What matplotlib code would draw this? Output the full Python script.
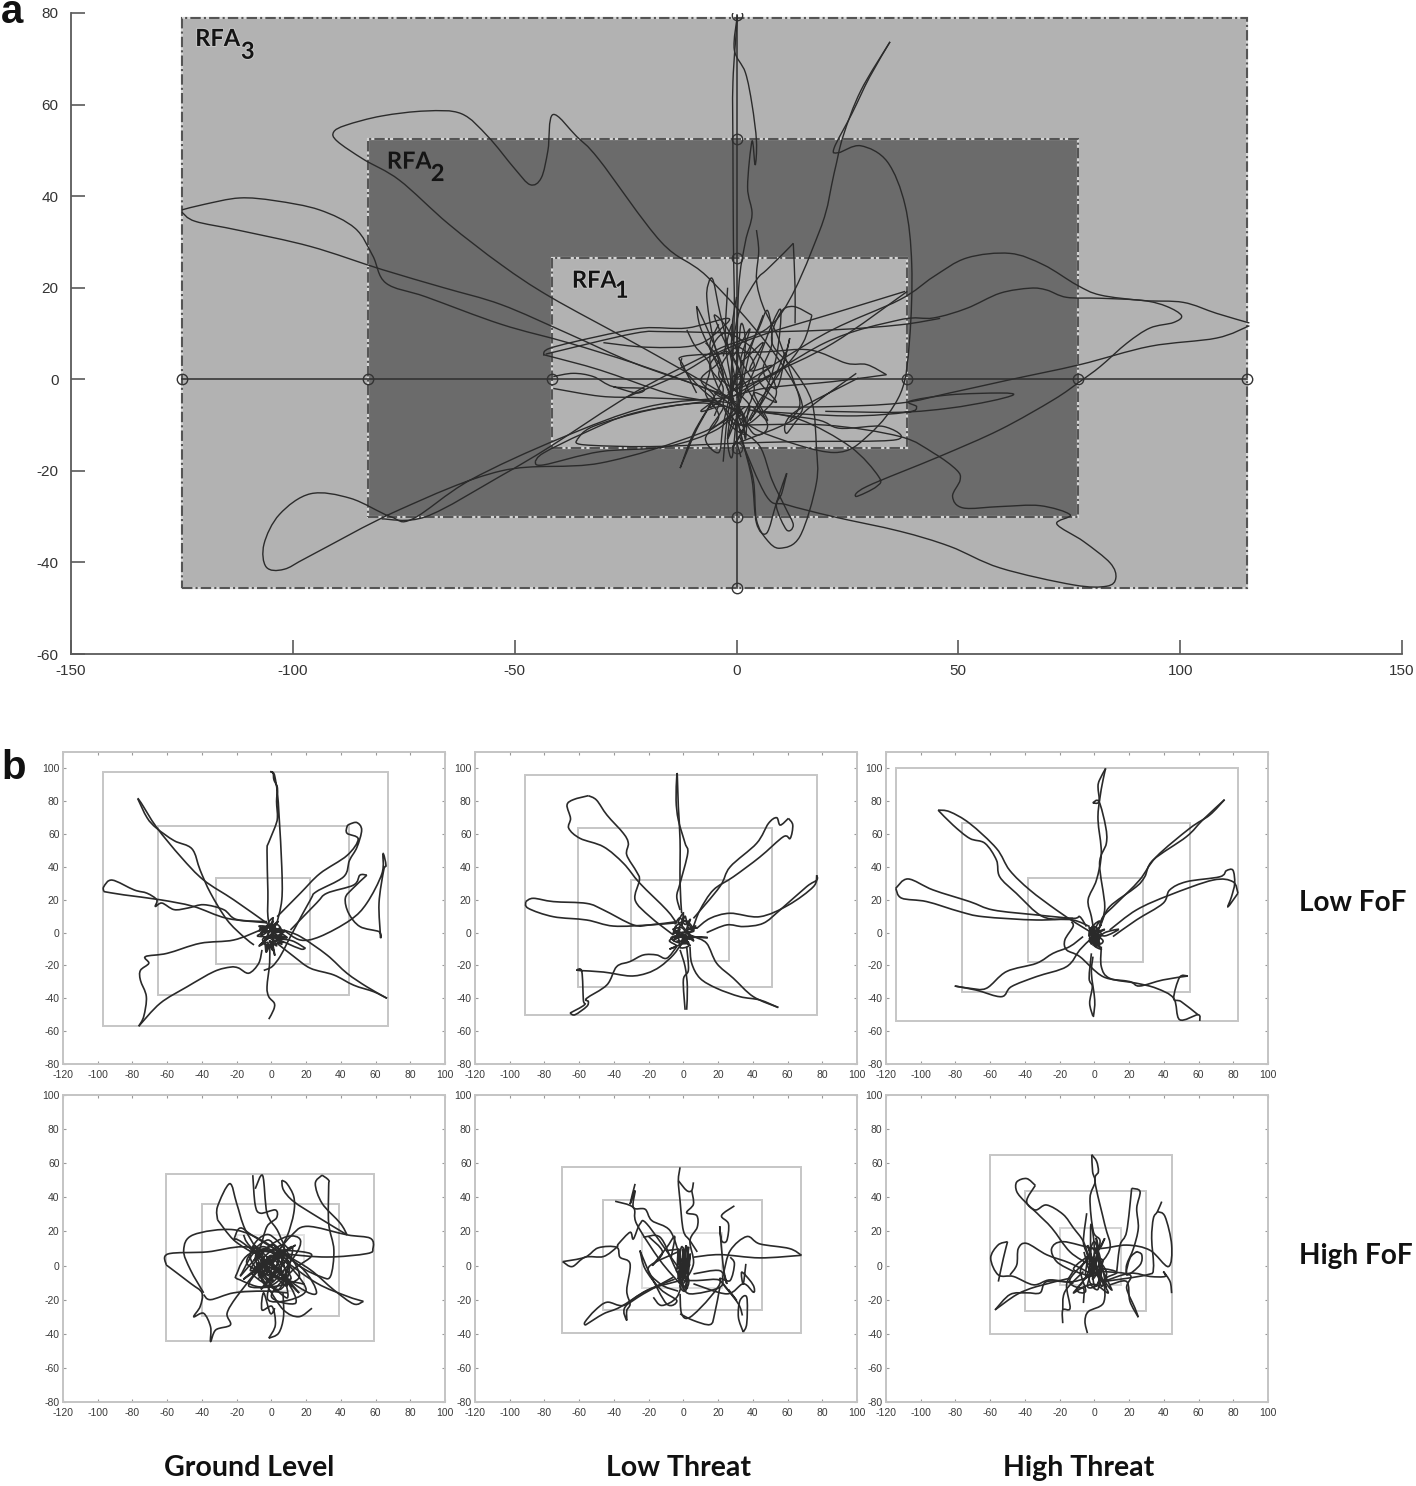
import matplotlib
matplotlib.use("Agg")
import matplotlib.pyplot as plt
import matplotlib.patheffects as pe
from matplotlib.patches import Rectangle, PathPatch
from matplotlib.path import Path
import numpy as np

W, H = 1416, 1486

# panel a: response field areas (x0, x1, y0, y1)
rfa3 = (-125, 115, -45.5, 79)
rfa2 = (-83, 77, -30, 52.5)
rfa1 = (-41.5, 38.5, -15, 26.5)
marker_x = [-125, -83, -41.5, 0, 38.5, 77, 115]
marker_y = [-45.5, -30, -15, 0, 26.5, 52.5, 79.5]
xticks_a = [-150, -100, -50, 0, 50, 100, 150]
yticks_a = [-60, -40, -20, 0, 20, 40, 60, 80]

# panel a: traced reach paths
paths_a = [
    [(-125,37),(-120,38.2),(-112,39.6),(-104,39),(-94,37),(-86,33),(-82,27),(-79,21),(-70,18),(-53,12),(-38,8),(-23,3.5),(-8,-1.6),(-1,-4)],
    [(-125,36.5),(-122,34.5),(-112,32.5),(-96,29),(-80,24),(-66,20),(-53,16.3),(-38,10),(-23,3.5),(-8,-1.6),(0,-5)],
    [(0,-14),(12.8,-8.8),(14.3,-3.8),(6.8,7.9),(-6.7,22.5),(-17,30),(-31,48),(-36,53),(-41.4,57.8),(-42.5,50),(-44,44),(-46.5,42.5),(-50,46),(-56,53),(-62,58),(-70,58.6),(-80,57.5),(-88,55.5),(-90.8,54),(-90,52),(-84,48),(-76,43.5),(-65,34),(-53,25),(-42,18),(-23,7.9),(-4.5,-2.3),(0,-6)],
    [(0.2,79.5),(-0.5,72),(2,67),(3.5,60),(4.5,52),(4.2,46.8),(3.5,52),(2.5,42),(3.5,36),(2,30),(0.5,20),(0,0)],
    [(0.2,79),(-0.8,65),(-0.8,50),(-0.7,30),(-0.5,15),(-1,0),(-1,-10)],
    [(34.6,73.7),(30,66),(26,58),(22,50.5),(23,49.5),(28,51),(34,47.5),(38,38),(39.5,25),(39,8.6),(37,-3),(30,-12),(22,-16),(6.8,-12),(0,-8)],
    [(34.6,73.7),(28,63),(24,53),(22,45),(18.8,32.6),(9,13),(-4.5,6.4),(-23.2,-3),(-42,-14.7),(-53.3,-21.2),(-70,-30),(-80,-30.5)],
    [(115.6,12.3),(108.2,14.4),(100.7,16.8),(91.7,17.2),(82,18.4),(76.7,20.6),(69.2,25),(61.6,27.5),(51.9,26.5),(44.4,22.4),(36.85,17.4),(20,10),(0,-2)],
    [(115.6,11.7),(108.2,9),(93.2,7.2),(77.4,3.2),(61.6,-0.1),(48,-3),(36.9,-5.2),(20,-6),(0,-6)],
    [(0,-4),(20,8),(36.85,13),(44.4,13.4),(51.9,15.5),(59.4,18.8),(66.2,19.9),(69.9,19.5),(74.4,17.9),(82,17.7),(91.7,17.2),(97,15.9),(100.3,13.9),(98.5,12.4),(93.2,11.2),(88,7.9),(82,2.8),(77.4,-0.5),(71.4,-4.5),(59.4,-11),(45.9,-16.8),(29.4,-23.4),(27,-25.6),(31.6,-23.4),(32,-21.2),(25.6,-14.7),(14.3,-8.8),(3,-6.7)],
    [(20,-7),(36.85,-7.2),(48,-6.3),(57.1,-4.8),(62.4,-3.4),(59.4,-3),(48,-3.4),(39,-4.8),(40.6,-6),(38.4,-7.2),(25,-8),(5,-7)],
    [(0.7,-10),(20,-10),(36.85,-12.5),(44.4,-16.1),(49.6,-19.8),(50.4,-22),(48.7,-25.6),(51.1,-28.1),(59.4,-27.8),(68.4,-27.6),(75.2,-29.6),(72.2,-31.6),(78.2,-35.4),(84.2,-40.1),(85.5,-43.4),(83.4,-45.2),(75.9,-44.9),(59.4,-41.2),(48.1,-36.5),(36.85,-33.2),(21.8,-30),(11.3,-27.4),(6.8,-25.6),(0.7,-12.5)],
    [(-2,-4),(-20,-6),(-40,-13),(-60,-22),(-73,-30.5),(-78,-30),(-87,-26),(-96,-25),(-103,-29.5),(-106.5,-36),(-106,-41),(-102,-41.5),(-96,-38.5),(-76,-28.5),(-53,-20),(-30.7,-18.3),(-8.2,-11.8),(2,-6)],
    [(45.9,13.3),(36.9,11.9),(21.8,10.8),(-0.7,10.2),(-15.7,10.4),(-23.2,10),(-43,5.5)],
    [(-43.5,5.3),(-42,6.8),(-31.5,9.3),(-21,11.2),(-11.2,11.2),(-2.2,13.3),(-3,11.5),(-9,7.5),(-20,7),(-30,8)],
    [(-43.5,5.3),(-42,5),(-30.7,2),(-15.7,-3),(-4.5,-5.2),(0.8,-7.5)],
    [(-41.3,0.6),(-36.8,1.3),(-32.3,0.6),(-27.8,-1.6),(-21,-2),(-22.5,-3),(-27.8,-1.6)],
    [(-41.3,-2),(-30.7,-3.7),(-21.7,-4),(-8.2,-4.5),(-0.7,-5.2)],
    [(-45.4,-18),(-43.5,-16.1),(-34.5,-11.8),(-23.2,-7.4),(-8.2,-5.2),(0.8,-6.7)],
    [(-45.4,-18),(-43.5,-18.7),(-30.7,-15.8),(-15.7,-14.7),(-4.5,-11),(0.8,-6)],
    [(-36,-13.2),(-34.5,-14.3),(-19.5,-14.7),(-0.7,-14),(14.3,-13.6),(36,-13.2),(33.1,-10.3),(23.3,-10.7),(18,-8.8),(3.8,-7)],
    [(-36,-13.2),(-32.3,-10.3),(-19.5,-6.7),(-4.5,-4.5)],
    [(33.8,1),(29.4,3.2),(24.8,3.5),(16.6,6.4),(6.8,6),(-0.7,5.7),(-12,5),(-12,3),(-9,-3)],
    [(33.8,1),(21.8,-0.5),(6.8,-1.9),(-2,-4)],
    [(27,1.3),(15.8,-6.7),(11.3,-11.8),(12.8,-7.4),(27.5,0.3)],
    [(38,19.2),(21.8,14.4),(6.8,10),(-4.5,5.7),(-13,1),(-25,-4)],
    [(38.5,19.2),(21.8,7.9),(6.8,0.6),(-0.7,-3.7)],
    [(0.8,-11),(5.3,-14.7),(8,-22),(11,-28),(12.8,-31.8),(11.3,-32.9),(9,-27.8),(10.2,-24.9),(11.3,-20.5),(9,-27),(6.8,-33.6),(4.5,-31.4),(3.5,-22),(1.5,-14),(0,-8)],
    [(17,14),(12.8,15.9),(9.8,14.4),(8,8),(13,2),(17,-5),(18,-14.7),(18,-22.7),(14.3,-34.3),(9.8,-36.9),(6.8,-35),(4.5,-30.7),(3.8,-22),(1.5,-14),(0,-8)],
    [(17,14),(15,8),(10,2),(3,-1),(-2,-3)],
    [(12.8,29.7),(10.6,27.5),(6.8,23.9),(4.5,21.7),(0.8,15.2),(-0.7,7.9),(-1.5,-3.8)],
    [(12.8,29.7),(13.2,20),(13.2,12.2)],
    [(4.5,32.6),(5,28),(4.5,21.7),(6,15.9),(9,10),(12,2),(14.3,-5.2),(12,-9)],
    [(-6,22),(-6.7,18),(-5.2,8.6),(-2.2,-1.6),(0.8,-8.1),(-0.7,2.1),(-3.7,14.4),(-5.2,21.4),(-6,22)],
    [(-9,15.9),(-8.2,11.5),(-5.2,5),(-0.7,-4.5),(-3.7,4.3),(-7.5,13),(-9,15.9)],
    [(-12.7,-19.4),(-9,-11),(-5.2,-4.5),(-9.7,-11.8),(-12.7,-19.4)],
    [(-3,-18),(-2,-8),(0,2),(1,12),(2,8),(1,-2),(0,-12),(1,-17)],
    [(6,14),(3,6),(1,-4),(4,2),(8,12),(10,15),(9,5),(6,-4),(3,-9),(7,-3),(11,6)],
    [(-5,-8),(-3,-2),(-6,3),(-2,6),(1,0),(-3,-5),(0,-10),(3,-6),(-1,-1),(4,3),(0,7),(-4,1),(1,-4),(-2,-9),(2,-12),(-1,-6),(-5,-3)],
    [(-12.3,4.6),(-12.3,2.8),(-8,-2),(-3,-6),(1,-10),(5,-8),(9,-3),(6,4),(2,8),(-3,10),(-6,5),(-4,-2),(0,-6),(4,-12),(7,-10),(3,-3),(0,3),(-3,9),(-5,14),(-2,11),(1,4),(4,-2),(1,-9)],
    [(-11.2,10.8),(-9.3,7.2),(-6,3),(-7,-3),(-4,-8),(-7,-13),(-4,-16),(-3,-10),(-1,-2),(2,5),(5,11),(7,15),(8,8),(6,2),(9,-2),(11,5),(12,9),(10,2),(5,-5),(1,-12),(-1,-15),(2,-9),(-2,-4),(-6,-6),(-3,1),(-6,7),(-4,12)],
    [(-7,8),(-4,4),(-8,0),(-5,-4),(-8,-7),(-3,-6),(-6,-11),(-1,-8),(-2,-13),(1,-7),(2,-13),(3,-6),(7,-9),(4,-3),(9,-5),(5,0),(8,3),(3,2),(6,8),(1,4),(3,11),(-1,5),(-1,12),(-3,5)],
    [(-2,20),(-2.5,8),(-1,-3),(-2,-13),(-1,-17),(0,-8),(1,3),(-1,10),(0,18)],
]

# panel b: field rectangles per panel (outer, mid, inner)
rects_b = [
    [(-97,67,-57,98),(-65,45,-38,65),(-32,22,-19,33)],
    [(-91,77,-50,96),(-60.5,51,-33,64),(-30,26,-17,32)],
    [(-114,83,-54,100),(-76,55,-36,67),(-38,28,-18,33.5)],
    [(-60.5,59,-44.5,53.5),(-40,39,-29.5,36),(-20,19,-15,18)],
    [(-70,68,-39.5,58),(-46,45.5,-26,38.5),(-24,22.5,-13,19)],
    [(-60,45,-40,65),(-40,30,-26.5,43.5),(-20,15.5,-11.5,22)],
]
inner_colors = ['#c6c6c6', '#c6c6c6', '#c6c6c6', '#e2e2e2', '#dcdcdc', '#d2d2d2']
xticks_b = list(range(-120, 101, 20))
yticks_b = list(range(-80, 101, 20))

low_ground = [
    [(0,0),(-2,10),(-2,25),(-2.5,50),(-1.5,55),(2,64),(3.5,70),(3,80),(3.5,88),(1.5,93),(1,97),(-0.5,98),(1,97.5),(2,95),(3.5,85),(4.5,70),(6,40),(6,20),(3,5)],
    [(-77,81.7),(-71.6,70),(-66,63.5),(-56,56),(-45.7,51),(-41,38),(-35,24),(-25.5,7.7),(-16,-2.5),(-10,-7.5)],
    [(-77,81.7),(-75,79),(-66,64),(-52,46),(-39,32),(-21.7,20),(-2.5,5.7)],
    [(-96.5,25),(-96.5,28),(-91.7,32),(-79,26),(-71.6,24),(-66,20),(-66.8,16),(-63,18),(-56,14),(-48,15),(-39,17),(-27.5,14),(-20,8),(-2.5,6.7)],
    [(-96.5,25),(-85,23),(-64,20),(-45,16),(-25.5,8.7),(-2.5,6)],
    [(-76.4,-57),(-73.5,-51),(-72,-39),(-75.4,-29),(-75.4,-23),(-70.6,-18.7),(-72.5,-14.6),(-60,-12.6),(-41,-6.5),(-21.7,-4.5),(-6.3,1.6)],
    [(-76.4,-57),(-64,-43),(-48.6,-33),(-33,-23.7),(-23.6,-21),(-19,-21.5),(-13,-24.7),(-7.3,-18.7),(-5.4,-10.5)],
    [(-1.5,-52.7),(1.3,-47),(1.7,-43),(-1.5,-39),(-2.5,-33),(-1,-18.7),(-1,-8.5)],
    [(66.6,-40),(59,-36),(47.4,-32),(36,-25.8),(22.5,-21.7),(13,-14.6),(3.3,-6.5)],
    [(66.6,-40),(55,-33),(43.5,-24.7),(32,-13.6),(16.7,-2.4),(7,1.6)],
    [(-4.4,-23),(0.4,-20.7),(5,-14.6),(9,-6.5),(13,1.6),(22.5,20),(26,25),(41.6,34),(45,44),(49.3,52),(52,62.5),(49.3,67),(45,66),(43.6,64.5),(43.6,60.5),(50,57),(43.6,47),(28,36),(16.7,24),(3.3,9.7)],
    [(55,35),(51,35),(47.4,29),(32,24),(26,18),(11,1.6)],
    [(55,35),(47,27),(42.6,21),(44.5,11.8),(51,3.7),(62,0.6),(62.8,-2.4),(62,18),(64.7,38),(66,41),(64.3,48),(63.7,36),(55,18),(45.5,7.7),(28,-2.4),(16.7,-4.5),(7,1.6)],
    [(19.6,-9.5),(17,-10),(9,-6.5),(4,-4),(12,-5),(19.6,-9.5)],
    [(-5,4),(-7,1),(-3,3),(-6,-2),(-1,1),(-4,-5),(0,-2),(-7,-8),(-2,-6),(-3,-12),(0,-7),(2,-14),(1,-5),(6,-7),(3,-2),(9,-3),(4,1),(8,1),(2,3),(4,7),(0,4),(1,9),(-2,5),(2,0),(-3,-3),(4,-3),(-1,-8),(5,-5),(0,1),(-6,0),(3,5),(6,-1),(-2,-2)],
    [(-7,2),(-4,3),(-6,-1),(-2,5),(-4,0),(1,7),(-1,1),(3,6),(0,-1),(5,3),(2,0),(8,1),(4,-2),(9,-3),(3,-4),(7,-6),(1,-3),(3,-8),(-1,-5),(1,-11),(-2,-7),(-3,-12),(-4,-6),(-7,-8),(-3,-3),(-8,-2),(-4,1),(-7,4),(0,3),(-2,-1),(2,-5),(6,-1),(-1,3),(4,1),(-5,-4),(0,-8),(2,4)],
]
low_low = [
    [(-3.8,95),(-4.2,80.7),(-2.9,68.6),(1,54.4),(2.5,48.3),(-1.9,30),(-3.8,22),(-1.9,13.8)],
    [(-3.8,95),(-3.5,96),(-2.9,76.7),(-1.9,56.4),(-1.9,30),(-1,11.8)],
    [(-54.7,83.4),(-63.3,81),(-67,77.7),(-65,69.6),(-66,63.5),(-59.5,57.4),(-46,52.3),(-34.5,42.2),(-25,30),(-9.6,13.8),(-3.8,5.7)],
    [(-54.7,83.4),(-50,80.7),(-44,71.6),(-34.5,60.4),(-31.7,54.4),(-32.6,47.3),(-26.9,37),(-25.3,32),(-27.8,19.9),(-19.2,9.7),(-5.8,-1.4)],
    [(-90.8,18.9),(-86.4,20.9),(-74.9,18.9),(-55.7,17.8),(-46,13.8),(-28.8,4.7),(-19.2,4.7),(-3.8,6.7)],
    [(-90.8,18.9),(-89.3,14.8),(-74.9,9.7),(-55.7,7.7),(-40.3,4),(-19.2,4.7),(-3.8,6)],
    [(60.5,69.6),(63,65.5),(61.5,57.4),(57.6,58.4),(44,46),(28.8,34),(17.3,26),(9.6,13.8),(5.8,3.7)],
    [(60.5,69.6),(55.8,65.5),(53.7,70),(49,66.5),(42.2,54.4),(26.9,40),(21,28),(5.8,8.7)],
    [(76.8,35),(74.9,28),(60.5,16.8),(44,9.7),(26.9,11.8),(15.4,8.7),(7.7,2.6)],
    [(76.8,35),(76.8,32),(71,28),(55.7,13.8),(46,5.7),(34.5,3.7),(25,4.7),(13.4,0)],
    [(54.7,-45.6),(44,-41),(32.6,-39),(19.2,-33.9),(9.6,-27.8),(4.8,-18.7),(3.8,-8.5)],
    [(54.7,-45.6),(40.3,-39),(28.8,-27.8),(19.2,-18.7),(13.4,-6.5),(5.8,-2.4)],
    [(1,-47),(0,-28.8),(2.9,-22.7),(1.9,-8.5)],
    [(1.9,-47),(2.3,-32.9),(1,-20.7),(-1.9,-10.5)],
    [(-65.3,-49),(-62.4,-50),(-55.7,-45),(-54.7,-42),(-55.7,-40),(-44,-31.8),(-38.4,-20.7),(-30.7,-17.6),(-23,-13.6),(-15.4,-13.6),(-9.6,-15.6),(-3.8,-8.5)],
    [(-65.3,-49),(-57,-44),(-57.6,-41),(-58.5,-23.7),(-61.4,-22.7),(-59.5,-23.1),(-46,-24),(-30.7,-26.4),(-21,-24.7),(-13.4,-20.7),(-5.8,-13.6),(-1,-6.5)],
    [(-4,4),(-6,-1),(-2,2),(-5,-4),(0,-1),(-7,-3),(-3,-6),(1,-3),(-2,-9),(3,-8),(1,-2),(6,-5),(2,1),(8,3),(3,3),(1,10),(-1,4),(0,12),(-3,6),(2,7),(6,1),(-1,0),(4,-4),(-3,-2),(14,-3),(5,-2),(-2,5),(-5,1),(3,-6),(-1,-7),(-8,-10),(-4,-8),(-8,-5),(-4,-2)],
    [(-5,5),(-2,9),(1,5),(4,8),(2,2),(7,4),(3,-1),(6,-3),(1,-4),(4,-8),(0,-5),(-2,-8),(-3,-3),(-6,-5),(-2,0),(-6,2),(-1,3),(1,0),(-3,1),(0,7),(3,5),(5,1),(0,-2),(2,-6),(-4,-5)],
]
low_high = [
    [(6.5,100),(3,93),(2.1,88.8),(2.7,79.7),(-0.8,79),(2.7,79.7),(6.5,64.5),(6.9,54.4),(3,42),(6,15.8),(3,3.7)],
    [(6.5,100),(5,93),(3,80.7),(2.1,68.6),(4,48.3),(1.2,32),(-3.6,20),(-1.7,9.7),(-0.4,1.6)],
    [(-90,74.6),(-83.3,73.6),(-71.8,66.5),(-56.4,51.3),(-48.8,38),(-37.2,26),(-21.9,13.8),(-10.4,5.7),(-0.8,-0.4)],
    [(-90,74.6),(-81.4,65.5),(-71.8,57.4),(-63,54.4),(-56.4,44.2),(-54.5,34),(-45,24),(-29.6,9.7),(-12.3,7.7),(-2.7,3.7)],
    [(-114.4,27),(-107.3,32.7),(-92.9,26),(-71.8,18.9),(-58.3,13.8),(-33.4,10.8),(-12.3,8.7),(-8.4,9.7),(-4.6,3.7)],
    [(-114.4,27),(-111,21),(-96.6,18.9),(-77.5,12.8),(-64,9.7),(-33.4,7.7),(-12.3,8.7)],
    [(75,81),(66.4,71.6),(54.9,63.5),(35.7,46.2),(26,32),(12.7,17.8),(5,9.7),(3,3.7)],
    [(75,81),(62.4,68.6),(53,58.4),(33.8,44.2),(29,34),(24.2,28),(8.8,15.8),(4,5.5)],
    [(82.7,24),(77,15.8),(79,21.9),(80.8,30),(79.8,38),(76,37.7),(72.2,34),(53,31),(43.4,26),(39.5,17.8),(24.2,7.7),(10.7,-2.4)],
    [(82.7,24),(79.8,31),(68.3,32),(43.4,22.9),(24.2,13.8),(8.8,1.6)],
    [(60.7,-53.8),(59.7,-50),(49.1,-53),(45.7,-40),(35.7,-33.9),(24.2,-30.8),(8.8,-27.8),(4,-20.7),(4,-8.5)],
    [(53.9,-26.4),(49.1,-27.2),(45.7,-40),(50,-42),(59.7,-50)],
    [(53.9,-26.4),(39.5,-28.8),(26,-32.5),(20.3,-29.8),(5,-26.8),(-8.4,-14.6),(-16,-10.5),(-17,-4.5),(-12.3,3.7),(-13.2,6.7)],
    [(-0.8,-51),(-2.7,-43),(-1.2,-32.9),(-3,-27.8),(-1.7,-12.6)],
    [(-0.8,-51),(-0.4,-50),(0.2,-41),(-1.7,-24.7),(-0.8,-14.6)],
    [(-80.4,-32.5),(-71.8,-33.9),(-62.2,-33.9),(-50.6,-23.7),(-33.4,-18.7),(-23.8,-12.6),(-14.2,-8.5),(-6.5,-2.4)],
    [(-80.4,-32.5),(-68,-35),(-53.5,-39),(-47.8,-32.9),(-33.4,-26.8),(-16,-20.7),(-8.4,-10.5),(-2.7,-4.5)],
    [(-2,3),(-3,-2),(0,1),(-2,-5),(1,-3),(-1,2),(2,0),(-2,-3),(3,-6),(0,-8),(4,-10),(1,-5),(4,-1),(1,3),(3,7),(0,5),(-2,1),(2,-2),(-3,-5),(1,-7),(-1,0),(6,-2),(14,2),(6,0),(2,-4)],
    [(-3,1),(-1,-2),(-3,-4),(0,-4),(-2,-7),(2,-5),(1,-9),(3,-3),(0,-1),(2,2),(-1,4),(-2,0),(1,-2),(-1,-5),(3,-7),(5,-5),(2,-1),(6,2),(2,1),(4,5),(1,1),(-3,3),(0,-3),(-2,-1),(2,-4),(-1,-8)],
    [(-2,-6),(-3,0),(-1,3),(1,-1),(-1,-3),(1,-6),(3,-9),(2,-3),(0,0),(-2,2),(0,-5),(2,-7),(1,-2),(3,1),(0,3),(-3,-2)],
]
high_ground = [
    [(-60.6,0.4),(-59.5,6.8),(-37,8),(-16,11),(7,7),(32,5),(55,7),(58.5,10),(57,16),(43.6,18),(20.5,23),(11,17),(1.3,5)],
    [(-60.6,0.4),(-46.6,-10.4),(-40,-16),(-41,-24),(-44.7,-30),(-39,-28),(-35,-36),(-35,-44.5),(-32,-37.7),(-23.6,-34.8),(-25.5,-28),(-19.8,-18),(-6.3,-0.6)],
    [(-39,-17),(-35,-20),(-21.7,-16),(-4.4,-15),(9,-16)],
    [(-39,-16),(-46.6,-2.5),(-50.5,9),(-45,18),(-21.7,21),(-2.5,13),(11,1.4)],
    [(-31,26.8),(-31,34.6),(-24,48),(-20,36.5),(-15,21),(-4.4,3.3)],
    [(-31,26.8),(-21.7,15),(-10,7)],
    [(-10.7,53),(-9.3,35.5),(-6.3,30.7),(2.3,32.6),(3,28),(-2.5,22.9),(-6.3,11),(-10,3)],
    [(-9.3,45),(-5,52.7),(-2.5,30.7),(3.3,21),(7,13),(11,9)],
    [(6,50),(9,48),(12.9,40.4),(12.9,30.7),(9,17),(3.3,7)],
    [(6,50),(7,44.3),(12.9,37.5),(26.3,28.7),(43.6,18)],
    [(29.2,53),(25.3,48),(29.2,36.5),(39.7,24.8),(43.6,18)],
    [(29.2,53),(33,50),(33,46.3),(33,24.8),(36,9.2),(34,-6.4),(28.2,-6.4),(16.7,-0.6),(3.3,11)],
    [(53,-21),(43.6,-18),(26.3,-10.4),(7,3.3)],
    [(53,-21),(47.4,-22.5),(36,-14.3),(22.5,-2.5),(7,7)],
    [(-1.5,-42.6),(4.2,-39.6),(7,-30),(6.7,-16)],
    [(-1.5,-42.6),(2.3,-34.8),(0.4,-24),(-5.4,-26),(-4.4,-16),(-0.6,-28),(2,-25)],
    [(23.4,-25),(15.8,-30),(7,-26),(-2.5,-12),(-10,-0.6)],
    [(-21.7,15),(-18,22),(-10,17),(16.7,-0.6),(26,-16),(14.8,-12),(-16,13),(-21.7,15)],
    [(-18,-6.4),(-4.4,9),(9,17),(16.7,15),(13,5),(-2.5,-12),(-18,-8.4),(-20,-5),(-10,8),(22.5,7),(12,-3),(0,-18),(14,-22),(8,-8),(-12,11),(-16,18)],
    [(-8,2),(-3,-10),(6,5),(-10,8),(7,-4),(-5,3),(9,-12),(2,12),(-12,-3),(10,6),(-6,-14),(4,2),(-2,15),(-14,1),(11,-8),(0,6),(-7,-6),(12,11),(3,-15),(-10,12),(16,-16),(1,-2),(-9,-1),(8,9),(-3,4)],
    [(-18,-6),(-4,11),(20,-14),(-2,-20),(5,8),(-13,-12),(16,-7),(-1,18),(-12,4),(9,-19),(2,3),(-16,-8),(14,12),(-6,-3),(19,-11)],
    [(-10,3),(-4,10),(4,2),(-7,-7),(6,9),(9,-3),(-3,-12),(-9,6),(3,-6),(7,12),(-6,1),(12,-12),(-1,-4),(-11,-5),(5,-14),(10,2),(-5,8),(1,-9),(-8,-1),(6,-2)],
]
high_low = [
    [(68,6),(61,10),(44,12.7),(36.5,17),(27,8.8),(23,-5),(21,-12.7),(3.8,-16.6),(-1,-10.7)],
    [(68,6),(44,4.5),(21,6.4),(5.8,4.9)],
    [(-69.5,2.3),(-64,-0.6),(-56.6,4.9),(-46,5.3),(-38.4,10.7),(-37.4,12.7),(-30.7,19.5),(-28.8,15.6),(-25,24.4),(-21,24.4),(-5.8,3),(0,-5)],
    [(-69.5,2.3),(-56.6,4.9),(-49,10.4),(-38.4,10.7),(-36.5,4.9),(-30.7,1),(-32.6,-14.6),(-30.7,-22.5),(-32.6,-26.4),(-32.6,-32.2),(-33.6,-24.4),(-21,-14.6),(-1.9,-8.8)],
    [(-56.6,-35),(-56.6,-33),(-51,-26.4),(-44,-21.5),(-34.5,-23.4),(-23,-16.6),(-5.8,-6.8)],
    [(-56.6,-35),(-46,-28.3),(-36.5,-24.4),(-21,-14.6),(-5,-8)],
    [(-27.8,47.9),(-30.7,36),(-27.8,44),(-28.8,34),(-22,33),(-18.2,26.4),(-7.7,20.5),(-1.9,4.9)],
    [(-39.3,37.7),(-28.8,34),(-26.9,24.4),(-13.4,3),(-1.9,-10.7)],
    [(-1.9,57.6),(-2.9,49.8),(-1.9,38),(0,20.5),(3.8,14.6),(8,8)],
    [(5.8,48.8),(4.8,44),(1.9,44),(-2.9,49.8)],
    [(4.8,44),(5.8,36),(1.9,31),(7.7,29.3),(8,22.5),(3.8,14.6),(5.8,1),(0,-10.7)],
    [(29.4,35),(22,29.3),(26,24.4),(25,14.6),(22,14.6),(21,22.5),(23,-1),(25,-10.7),(21,-3),(5.8,-4.9)],
    [(27,4.9),(29.4,1),(26.9,-8.8),(21,-8),(30.7,-20.5),(26,-14)],
    [(36,1),(34.5,-10.7),(33.6,-3.9),(38.4,-8.8),(40.7,-12.7),(40.3,-15.6),(34.5,-10.7),(25,-16.6),(5.8,-10.7)],
    [(34.5,-39),(31.7,-30.3),(32.6,-20.5),(36.5,-18.6),(36.5,-34),(34.5,-39)],
    [(34,-29.3),(31.7,-22.5),(23,-10.7)],
    [(-1.9,-28.3),(5.8,-32.2),(15.4,-34.6),(18,-28.3),(21,-12.7)],
    [(-1.9,-16.6),(-1,-28.3),(3.8,-30.3),(15.4,-18.6),(21,-8.8),(7.7,-8.8),(0,-8.8)],
    [(-25,8.8),(-19.2,-4.9),(-9.6,-22.5),(-3.8,-20.5),(-13,-14),(-22,-2),(-25,8.8)],
    [(-9.6,8.8),(-1.9,8.8),(-20,-1),(-13,-11),(-3,-15)],
    [(-23,16.6),(-13.4,16.6),(-5.8,1),(0,-11.7)],
    [(-17.3,-18.6),(-12.5,-23.4),(-3.8,-18.6),(0,-6.8)],
    [(-20,17),(-12,8),(-18,0),(-10,10),(-5,17),(-7,5)],
    [(-3,10),(-3.5,-2),(-2,9),(-1.5,-5),(0,10),(0,-3),(1.5,12),(1,-8),(3,11),(2,-5),(4,7),(2,-9),(-1,-1),(-3,-8),(0,-2),(2,-13),(-1,-10),(1,-6),(-2,-12),(1,-15),(3,-8),(-4,-3),(1,2),(-3,4),(4,0)],
    [(-3,8),(-2,0),(-3,-6),(-1,-11),(0,-4),(1,4),(2,11),(3,2),(1,-3),(2,-11),(0,-14),(-1,-5),(-2,4),(-1,11),(1,7),(0,-1),(-2,-9),(1,-12),(3,-4)],
]
high_high = [
    [(-1.5,65),(1.3,61),(2.3,55),(0.4,49),(6,24),(9,10),(1.3,-1.6)],
    [(-1.5,65),(-1,55),(0.4,49),(-2.5,39.5),(-0.6,20),(3.3,14),(-0.6,0)],
    [(-34,47),(-39,51),(-44.7,49),(-44.7,43.4),(-40,37.5),(-34,32.6),(-27.5,35.5),(-18,30),(-12,22),(-6.3,14),(-2.5,2.3)],
    [(-34,47),(-39,37.5),(-33,30.7),(-24.5,22),(-14,8),(-2.5,0.4)],
    [(-50,14),(-55.5,12),(-59.7,4.3),(-55.3,-5.5),(-46.6,-6.4),(-35,-11.3),(-25.5,-8.4),(-12,-10.4)],
    [(-55.3,-9.4),(-52.4,4.3),(-50,14)],
    [(-48.6,-5.5),(-44.7,0.4),(-43.8,10),(-39,13),(-27.4,6.3),(-14,1.4),(-0.6,-5.5)],
    [(-57.2,-26),(-48.6,-17),(-39,-16),(-31.3,-16),(-27.4,-9.4),(-12,-9.4),(-0.6,-5.5)],
    [(-57.2,-26),(-44.7,-17),(-33.2,-12.3),(-14,-7.4)],
    [(-18.2,-33.8),(-18.2,-26),(-14,-25),(-16,-11.3),(-12,-3)],
    [(-18.2,-26),(-16.9,-15.2),(-6.3,-3.5)],
    [(-6.3,-22),(-6.3,-13.3),(-12,-16),(-6.3,-9.4)],
    [(-4,-39.6),(-5.4,-32.8),(-3.5,-27),(5.2,-22),(5.2,-9.4),(-0.6,-3.5)],
    [(25.3,-30.3),(23.4,-25),(18.6,-13.3),(20.5,-5.5),(5.2,-3.5)],
    [(25.3,-30.3),(20.5,-21),(18.6,-9.4),(9,-11.3)],
    [(44.5,-16.2),(43.6,-9.4),(39.7,-3.5),(40.7,-6.4),(32,-6.4),(20.5,-4.5),(5.2,-9.4)],
    [(21.5,45.3),(18.6,20),(14.8,12),(12.9,-3.5)],
    [(21.5,45.3),(26.3,43.4),(24.4,33.6),(25.3,21.9),(22.5,10),(18.6,0.4),(18.6,-5.5)],
    [(38.8,37.5),(36.3,31.6),(34,27.7),(33,16),(34,-1.6),(30,-5.5),(5.2,-9.4)],
    [(36.3,31.6),(40.7,28.7),(44.5,12),(42.6,-0.6),(32,9),(18.6,12),(1.3,10),(-18,14),(-24.6,10),(-21.7,2.3),(-12,-3.5)],
    [(24.4,8.2),(27.3,6.3),(26.3,0.4),(18.6,-5.5),(20.5,4.3),(24.4,8.2)],
    [(-4.4,30.7),(-6.3,14),(-4,5),(-8,-3),(-5,-15),(-10,-14),(-3,-2),(-2,24),(0,8),(-3,-8),(2,-14),(3,-2),(1,16),(3,10),(6,16),(1,4),(4,-12),(7,-4),(2,3),(10,-14),(6,-8),(13,-4),(4,-2),(-1,-6),(-12,-2),(-2,6),(-14,-8),(-9,-13),(0,-11),(8,-16),(2,-5),(-4,12),(1,-2)],
    [(-6,8),(-2,-4),(1,10),(3,-9),(-4,-12),(2,6),(-1,-8),(5,3),(-3,2),(6,-10),(0,14),(-5,-6),(4,-3),(0,-12),(-2,10),(3,1),(-7,-9),(1,-4),(7,-13),(-1,4)],
]
paths_b = [low_ground, low_low, low_high, high_ground, high_low, high_high]
row_labels = ["Low FoF", "High FoF"]
col_labels = ["Ground Level", "Low Threat", "High Threat"]


def px_axes(x0, x1, y_top, y_bottom):
    return fig.add_axes([x0/W, 1-y_bottom/H, (x1-x0)/W, (y_bottom-y_top)/H])


def smooth_path(pts):
    # catmull-rom handles, so the traced curves render round
    pts = np.array(pts, dtype=float)
    p = np.vstack([pts[0], pts, pts[-1]])
    verts = [pts[0]]
    codes = [Path.MOVETO]
    for i in range(1, len(p)-2):
        verts += [p[i]+(p[i+1]-p[i-1])/6, p[i+1]-(p[i+2]-p[i])/6, p[i+1]]
        codes += [Path.CURVE4]*3
    return Path(verts, codes)


def draw_rfa(ax, r, fill):
    x0, x1, y0, y1 = r
    ax.add_patch(Rectangle((x0, y0), x1-x0, y1-y0, fc=fill, ec='#d4d4d4', lw=1.6, zorder=2))
    ax.add_patch(Rectangle((x0, y0), x1-x0, y1-y0, fc='none', ec='#555555', lw=1.5,
                           ls=(0, (5, 1.5, 1, 1.5)), zorder=2.1))


def rfa_label(ax, num, x, y, xs, ys, halo_color):
    halo = [pe.withStroke(linewidth=1.5, foreground=halo_color)]
    ax.text(x, y, "RFA", fontsize=17, fontweight='bold', family='Lato', color='#141414',
            va='baseline', zorder=6, path_effects=halo)
    ax.text(xs, ys, num, fontsize=17, fontweight='bold', family='Lato', color='#141414',
            va='baseline', zorder=6, path_effects=halo)


plt.rcParams['font.family'] = ['Liberation Sans', 'DejaVu Sans']
plt.rcParams['axes.unicode_minus'] = False
fig = plt.figure(figsize=(W/100, H/100), dpi=100, facecolor='white')

# panel a
ax = px_axes(71, 1402, 13, 654)
ax.set_xlim(-150, 150)
ax.set_ylim(-60, 80)
for s in ['top', 'right']:
    ax.spines[s].set_visible(False)
for s in ['left', 'bottom']:
    ax.spines[s].set_color('#5a5a5a')
    ax.spines[s].set_linewidth(1.3)
ax.set_xticks(xticks_a)
ax.set_yticks(yticks_a)
ax.tick_params(axis='x', direction='in', length=10, width=1.2, color='#5a5a5a', labelsize=11, labelcolor='#333333', pad=7)
ax.tick_params(axis='y', direction='in', length=10, width=1.2, color='#5a5a5a', labelsize=11, labelcolor='#333333', pad=9)
ax.patch.set_alpha(0)
draw_rfa(ax, rfa3, '#b2b2b2')
draw_rfa(ax, rfa2, '#6b6b6b')
draw_rfa(ax, rfa1, '#b2b2b2')
ax.plot([marker_x[0], marker_x[-1]], [0, 0], color='#2e2e2e', lw=1.1, zorder=3)
ax.plot([0, 0], [marker_y[0], marker_y[-1]], color='#2e2e2e', lw=1.1, zorder=3)
ax.plot(marker_x, [0]*len(marker_x), 'o', ms=7.5, mfc='none', mec='#333333', mew=1, zorder=3)
ax.plot([0]*len(marker_y), marker_y, 'o', ms=7.5, mfc='none', mec='#333333', mew=1, zorder=3)
for pts in paths_a:
    ax.add_patch(PathPatch(smooth_path(pts), fc='none', ec='#2b2b2b', lw=1.0, zorder=4))
rfa_label(ax, "3", -122, 72.8, -111.7, 70, '#c6c6c6')
rfa_label(ax, "2", -78.8, 46, -68.9, 43.3, '#6b6b6b')
rfa_label(ax, "1", -37.1, 20, -27.4, 17.8, '#c6c6c6')

# panel b
lefts = [63, 475, 886]
tops = [(752, 1064, 110), (1095, 1402, 100)]
for n, pts_list in enumerate(paths_b):
    top, bottom, ymax = tops[n//3]
    left = lefts[n % 3]
    axb = px_axes(left, left+382, top, bottom)
    axb.set_xlim(-120, 100)
    axb.set_ylim(-80, ymax)
    axb.set_xticks(xticks_b)
    axb.set_yticks(yticks_b)
    axb.tick_params(axis='x', direction='in', length=2.5, width=0.8, color='#999999', labelsize=7.5,
                    labelcolor='#3a3a3a', pad=4.5, top=True, right=True)
    axb.tick_params(axis='y', direction='in', length=2.5, width=0.8, color='#999999', labelsize=7.5,
                    labelcolor='#3a3a3a', pad=2.5, top=True, right=True)
    for s in axb.spines.values():
        s.set_color('#c4c4c4')
        s.set_linewidth(1.4)
    for k, (x0, x1, y0, y1) in enumerate(rects_b[n]):
        col = inner_colors[n] if k == 2 else '#c6c6c6'
        axb.add_patch(Rectangle((x0, y0), x1-x0, y1-y0, fc='none', ec=col, lw=1.4))
    for pts in pts_list:
        axb.add_patch(PathPatch(smooth_path(pts), fc='none', ec='#2a2a2a', lw=1.2))

fig.text(1/W, 1-23/H, "a", fontsize=29, fontweight='bold', color='#111111', va='baseline')
fig.text(1/W, 1-779/H, "b", fontsize=29, fontweight='bold', color='#111111', va='baseline')
for label, cx in zip(col_labels, [249, 679, 1079]):
    fig.text(cx/W, 1-1476/H, label, fontsize=20.5, fontweight='bold', family='Lato', color='#111111',
             ha='center', va='baseline')
for label, cx, by in zip(row_labels, [1353, 1356], [911, 1264]):
    fig.text(cx/W, 1-by/H, label, fontsize=20.2, fontweight='bold', family='Lato', color='#111111',
             ha='center', va='baseline')

fig.savefig("out.png", dpi=100)
